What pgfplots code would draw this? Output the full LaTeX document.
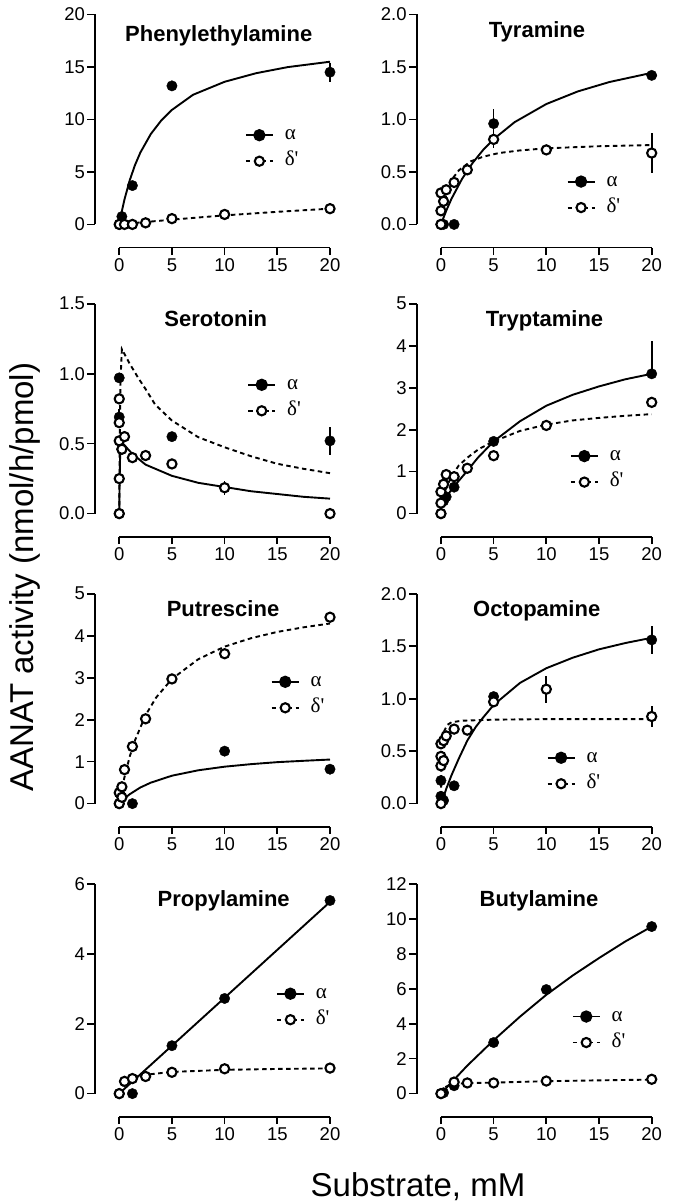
\documentclass[border=0pt]{standalone}
\usepackage{fontspec}
\setmainfont{Liberation Sans}
\newfontfamily\greekfont{Liberation Serif}
\usepackage{pgfplots}
\pgfplotsset{compat=1.18}

\pgfplotsset{
 prism/.style={
  scale only axis, width=235pt, height=233pt,
  xmin=-2.3, xmax=20,
  clip=false,
  axis x line*=bottom, axis y line*=left,
  axis line style={draw=none},
  xtick={0,5,10,15,20},
  tick align=outside,
  major tick length=7.5pt,
  tick style={black, line width=1.7pt},
  tick label style={font=\fontsize{18.5}{18.5}\selectfont},
  yticklabel style={xshift=1pt},
  /pgf/number format/assume math mode=true,
  legend style={draw=none, fill=none, inner sep=0pt, outer sep=0pt,
    nodes={inner sep=0pt, text height=13pt, text depth=5pt, anchor=base west, font=\greekfont\fontsize{21}{21}\selectfont},
    /tikz/every odd column/.append style={column sep=11pt}, row sep=8pt, anchor=west},
  legend image code/.code={\draw[##1, mark repeat=2, mark phase=2] plot coordinates {(0pt,4.5pt) (13.5pt,4.5pt) (27pt,4.5pt)};},
  legend cell align=left,
 },
 oneDec/.style={yticklabel style={/pgf/number format/.cd, fixed, fixed zerofill, precision=1}},
 fitA/.style={line width=1.9pt, black, no markers, forget plot},
 fitD/.style={line width=1.9pt, black, dash pattern=on 4.5pt off 3.5pt, no markers, forget plot},
 ptsA/.style={only marks, black, mark=*, mark size=5.2pt, forget plot,
   error bars/.cd, y dir=both, y explicit, error mark=none, error bar style={line width=1.7pt, solid}},
 ptsD/.style={only marks, black, mark=*, mark size=4.6pt, mark options={fill=white, draw=black, line width=2.1pt}, forget plot,
   error bars/.cd, y dir=both, y explicit, error mark=none, error bar style={line width=1.7pt, solid}},
}
\newcommand{\prismaxes}{%
  \draw[line width=1.7pt] (rel axis cs:0.10314,0) -- (rel axis cs:1,0);
  \draw[line width=1.7pt] (rel axis cs:0,0.0991) -- (rel axis cs:0,1);
  \addlegendimage{black, line width=1.9pt, mark=*, mark size=5.2pt}
  \addlegendentry{α}
  \addlegendimage{black, line width=1.9pt, dash pattern=on 4.5pt off 3.5pt, mark=*, mark size=4.6pt, mark options={solid, fill=white, line width=2.1pt}}
  \addlegendentry{δ\textquotesingle}
}

\begin{document}
\begin{tikzpicture}
\useasboundingbox (0,0) rectangle (685pt,-1204pt);

% ---------------- Phenylethylamine
\begin{axis}[prism, at={(95pt,-247.5pt)}, anchor=south west,
  ymin=-2.2, ymax=20, ytick={0,5,10,15,20},
  legend style={at={(0.638,0.424)}}]
\addplot[fitD] coordinates {(0,0) (1.25,0.12) (2.5,0.23) (5,0.45) (7.5,0.66) (10,0.86) (15,1.2) (20,1.5)};
\addplot[fitA] coordinates {(0.2,1.04) (0.5,2.39) (1,4.22) (1.5,5.67) (2,6.84) (3,8.62) (4,9.92) (5,10.91) (7,12.35) (10,13.59) (13,14.41) (16,14.99) (20,15.5)};
\addplot[ptsA] table[x=x,y=y,y error plus=ep,y error minus=em] {
x y ep em
0 0 0 0
0.25 0.75 0 0
1.25 3.7 0 0
5 13.2 0 0
20 14.5 0.9 0.9
};
\addplot[ptsD] table[x=x,y=y,y error plus=ep,y error minus=em] {
x y ep em
0 0 0 0
0.5 0 0 0
1.25 0 0 0
2.5 0.15 0 0
5 0.55 0 0
10 0.95 0 0
20 1.5 0 0
};
\prismaxes
\end{axis}

% ---------------- Tyramine
\begin{axis}[prism, oneDec, at={(416.7pt,-247.5pt)}, anchor=south west,
  ymin=-0.22, ymax=2, ytick={0,0.5,1,1.5,2},
  legend style={at={(0.638,0.225)}}]
\addplot[fitA] coordinates {(0.1,0.027) (0.5,0.13) (1,0.244) (2,0.433) (3,0.585) (4,0.709) (5,0.8125) (7,0.975) (10,1.147) (13,1.2675) (16,1.357) (20,1.444)};
\addplot[fitD] coordinates {(0.1,0.08) (0.25,0.17) (0.5,0.28) (0.8,0.37) (1.2,0.45) (1.7,0.515) (2.8,0.6) (4,0.645) (5.5,0.68) (7.5,0.705) (10,0.725) (15,0.745) (20,0.756)};
\addplot[ptsA] table[x=x,y=y,y error plus=ep,y error minus=em] {
x y ep em
0 0 0 0
0.25 0 0 0
1.25 0 0 0
5 0.96 0.14 0.14
20 1.42 0 0
};
\addplot[ptsD] table[x=x,y=y,y error plus=ep,y error minus=em] {
x y ep em
0 0 0 0
0 0.13 0 0
0 0.3 0 0
0.25 0.22 0 0
0.5 0.33 0 0
1.25 0.4 0 0
2.5 0.52 0 0
5 0.81 0.08 0.08
10 0.71 0 0
20 0.68 0.19 0.19
};
\prismaxes
\end{axis}

% ---------------- Serotonin
\begin{axis}[prism, oneDec, at={(95pt,-536.7pt)}, anchor=south west,
  ymin=-0.165, ymax=1.5, ytick={0,0.5,1,1.5},
  legend style={at={(0.648,0.594)}}]
\addplot[fitD] coordinates {(0,0) (0.05,0.55) (0.12,0.95) (0.25,1.175) (0.5,1.14) (1,1.07) (1.8,0.97) (2.5,0.89) (3.4,0.78) (5,0.665) (7.5,0.546) (10,0.474) (12.5,0.41) (15,0.356) (17.5,0.32) (20,0.289)};
\addplot[fitA] coordinates {(0,0) (0.03,0.2) (0.08,0.4) (0.15,0.51) (0.3,0.505) (0.6,0.48) (1.2,0.43) (2.5,0.35) (5,0.27) (7.5,0.22) (10,0.19) (12.5,0.16) (15,0.14) (17.5,0.12) (20,0.107)};
\addplot[ptsA] table[x=x,y=y,y error plus=ep,y error minus=em] {
x y ep em
0 0 0 0
0 0.97 0 0
0 0.69 0.06 0.06
0.25 0.46 0 0
5 0.55 0 0
20 0.52 0.1 0.1
};
\addplot[ptsD] table[x=x,y=y,y error plus=ep,y error minus=em] {
x y ep em
0 0 0 0
0 0.25 0 0
0 0.52 0 0
0 0.65 0 0
0 0.82 0 0
0.25 0.46 0 0
0.5 0.55 0 0
1.25 0.4 0 0
2.5 0.415 0 0
5 0.355 0 0
10 0.185 0.05 0.05
20 0 0 0
};
\prismaxes
\end{axis}

% ---------------- Tryptamine
\begin{axis}[prism, at={(416.7pt,-536.7pt)}, anchor=south west,
  ymin=-0.55, ymax=5, ytick={0,1,2,3,4,5},
  legend style={at={(0.652,0.288)}}]
\addplot[fitD] coordinates {(0,0) (0.25,0.4) (0.5,0.62) (1,0.88) (1.7,1.15) (2.6,1.35) (3.6,1.54) (5,1.72) (7.5,1.97) (10,2.12) (12.5,2.22) (15,2.28) (17.5,2.33) (20,2.37)};
\addplot[fitA] coordinates {(0.25,0.3) (0.5,0.4) (1.25,0.65) (2.5,1.02) (3.5,1.33) (5,1.72) (7.5,2.2) (10,2.57) (12.5,2.83) (15,3.03) (17.5,3.2) (20,3.33)};
\addplot[ptsA] table[x=x,y=y,y error plus=ep,y error minus=em] {
x y ep em
0 0 0 0
0.25 0.3 0 0
0.5 0.4 0 0
1.25 0.63 0 0
5 1.72 0 0
20 3.33 0.78 0
};
\addplot[ptsD] table[x=x,y=y,y error plus=ep,y error minus=em] {
x y ep em
0 0 0 0
0 0.25 0 0
0 0.52 0 0
0.25 0.7 0 0
0.5 0.93 0 0
1.25 0.88 0 0
2.5 1.08 0 0
5 1.38 0.1 0.1
10 2.1 0 0
20 2.65 0 0
};
\prismaxes
\end{axis}

% ---------------- Putrescine
\begin{axis}[prism, at={(95pt,-826.7pt)}, anchor=south west,
  ymin=-0.55, ymax=5, ytick={0,1,2,3,4,5},
  legend style={at={(0.748,0.564)}}]
\addplot[fitA] coordinates {(0.1,0.027) (0.5,0.123) (1,0.225) (2,0.384) (3,0.5) (5,0.665) (7.5,0.794) (10,0.88) (12.5,0.94) (15,0.988) (17.5,1.02) (20,1.05)};
\addplot[fitD] coordinates {(0,0) (0.25,0.34) (0.5,0.633) (1,1.125) (1.5,1.51) (2.5,2.107) (3.5,2.527) (5,2.97) (7.5,3.44) (10,3.74) (12.5,3.94) (15,4.09) (17.5,4.2) (20,4.29)};
\addplot[ptsA] table[x=x,y=y,y error plus=ep,y error minus=em] {
x y ep em
0 0 0 0
1.25 0 0 0
10 1.25 0 0
20 0.82 0 0
};
\addplot[ptsD] table[x=x,y=y,y error plus=ep,y error minus=em] {
x y ep em
0 0 0 0
0 0.26 0 0
0.25 0.15 0 0
0.25 0.4 0 0
0.5 0.81 0 0
1.25 1.36 0 0
2.5 2.02 0 0
5 2.97 0 0
10 3.57 0 0
20 4.44 0 0
};
\prismaxes
\end{axis}

% ---------------- Octopamine
\begin{axis}[prism, oneDec, at={(416.7pt,-826.7pt)}, anchor=south west,
  ymin=-0.22, ymax=2, ytick={0,0.5,1,1.5,2},
  legend style={at={(0.553,0.238)}}]
\addplot[fitA] coordinates {(0.15,0.03) (0.5,0.14) (1,0.27) (1.7,0.43) (2.5,0.6) (3.3,0.73) (4,0.82) (5,0.94) (7.5,1.15) (10,1.29) (12.5,1.39) (15,1.47) (17.5,1.53) (20,1.58)};
\addplot[fitD] coordinates {(0,0) (0.05,0.4) (0.15,0.6) (0.3,0.69) (0.6,0.75) (1,0.775) (2,0.79) (5,0.8) (10,0.805) (20,0.805)};
\addplot[ptsA] table[x=x,y=y,y error plus=ep,y error minus=em] {
x y ep em
0 0.07 0 0
0 0.22 0 0
0.25 0.03 0 0
1.25 0.17 0 0
5 1.02 0.04 0.04
20 1.56 0.13 0.13
};
\addplot[ptsD] table[x=x,y=y,y error plus=ep,y error minus=em] {
x y ep em
0 0 0 0
0 0.36 0 0
0 0.45 0 0
0 0.57 0 0
0.25 0.41 0 0
0.25 0.6 0 0
0.5 0.645 0 0
1.25 0.71 0 0
2.5 0.7 0.05 0.05
5 0.97 0.05 0.05
10 1.09 0.13 0.13
20 0.83 0.1 0.1
};
\prismaxes
\end{axis}

% ---------------- Propylamine
\begin{axis}[prism, at={(95pt,-1116.7pt)}, anchor=south west,
  ymin=-0.66, ymax=6, ytick={0,2,4,6},
  legend style={at={(0.770,0.470)}}]
\addplot[fitD] coordinates {(0,0) (0.25,0.2) (0.5,0.33) (1,0.43) (1.5,0.48) (2.5,0.54) (5,0.62) (10,0.68) (15,0.705) (20,0.72)};
\addplot[fitA] coordinates {(0.1,0.03) (5,1.37) (10,2.74) (20,5.48)};
\addplot[ptsA] table[x=x,y=y,y error plus=ep,y error minus=em] {
x y ep em
0 0 0 0
1.25 0 0 0
5 1.37 0 0
10 2.72 0.12 0.12
20 5.52 0 0
};
\addplot[ptsD] table[x=x,y=y,y error plus=ep,y error minus=em] {
x y ep em
0 0 0 0
0.5 0.35 0 0
1.25 0.43 0 0
2.5 0.49 0 0
5 0.61 0 0
10 0.71 0 0
20 0.73 0 0
};
\prismaxes
\end{axis}

% ---------------- Butylamine
\begin{axis}[prism, at={(416.7pt,-1116.7pt)}, anchor=south west,
  ymin=-1.32, ymax=12, ytick={0,2,4,6,8,10,12},
  legend style={at={(0.660,0.372)}}]
\addplot[fitD] coordinates {(0,0) (0.25,0.25) (0.5,0.4) (1,0.54) (2.5,0.6) (5,0.63) (10,0.71) (15,0.76) (20,0.8)};
\addplot[fitA] coordinates {(0,0) (1.25,0.8) (2.5,1.6) (5,3.05) (7.5,4.4) (10,5.65) (12.5,6.75) (15,7.75) (17.5,8.7) (20,9.55)};
\addplot[ptsA] table[x=x,y=y,y error plus=ep,y error minus=em] {
x y ep em
0 0 0 0
0.25 0.05 0 0
1.25 0.45 0 0
5 2.92 0 0
10 5.95 0 0
20 9.55 0 0
};
\addplot[ptsD] table[x=x,y=y,y error plus=ep,y error minus=em] {
x y ep em
0 0 0 0
1.25 0.66 0 0
2.5 0.61 0 0
5 0.61 0 0
10 0.72 0 0
20 0.82 0 0
};
\prismaxes
\end{axis}

% ---------------- titles and labels
\begin{scope}[every node/.style={anchor=base, font=\bfseries\fontsize{22}{22}\selectfont}]
\node at (218.7pt,-41.7pt) {Phenylethylamine};
\node at (537pt,-37.3pt) {Tyramine};
\node at (215.8pt,-326.7pt) {Serotonin};
\node at (544.5pt,-326.7pt) {Tryptamine};
\node at (223pt,-616.7pt) {Putrescine};
\node at (536.7pt,-616.7pt) {Octopamine};
\node at (223.7pt,-906.7pt) {Propylamine};
\node at (539pt,-906pt) {Butylamine};
\end{scope}
\node[rotate=90, anchor=base, font=\fontsize{33}{33}\selectfont] at (33pt,-577pt) {AANAT activity (nmol/h/pmol)};
\node[anchor=base, font=\fontsize{33}{33}\selectfont] at (418pt,-1196pt) {Substrate, mM};
\end{tikzpicture}
\end{document}
